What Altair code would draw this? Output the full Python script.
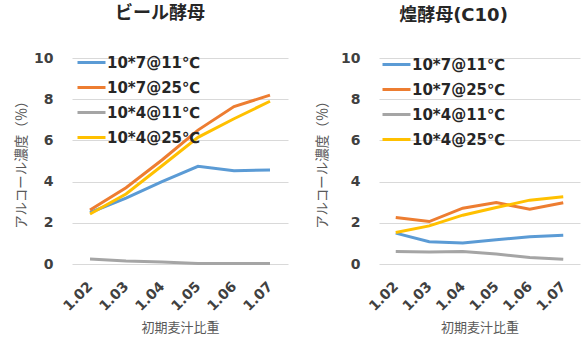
import altair as alt
import pandas as pd

# Initial wort specific gravity (category axis)
gravity = ["1.02", "1.03", "1.04", "1.05", "1.06", "1.07"]

# Pitch rate @ fermentation temperature
series = ["10*7@11℃", "10*7@25℃", "10*4@11℃", "10*4@25℃"]
colors = ["#5B9BD5", "#ED7D31", "#A5A5A5", "#FFC000"]

# Alcohol concentration (%) — beer yeast
beer_7_11 = [2.50, 3.20, 4.00, 4.74, 4.53, 4.56]
beer_7_25 = [2.62, 3.70, 5.05, 6.50, 7.64, 8.20]
beer_4_11 = [0.24, 0.15, 0.10, 0.03, 0.03, 0.02]
beer_4_25 = [2.43, 3.40, 4.77, 6.15, 7.05, 7.90]

# Alcohol concentration (%) — Kirameki yeast (C10)
c10_7_11 = [1.50, 1.08, 1.02, 1.18, 1.32, 1.40]
c10_7_25 = [2.26, 2.06, 2.71, 2.98, 2.66, 2.97]
c10_4_11 = [0.61, 0.58, 0.61, 0.48, 0.32, 0.23]
c10_4_25 = [1.53, 1.85, 2.37, 2.74, 3.10, 3.27]

JP = "Noto Sans CJK JP"
NUM = "DejaVu Sans, Noto Sans CJK JP"


def to_frame(cols):
    rows = []
    for name, vals in zip(series, cols):
        for g, v in zip(gravity, vals):
            rows.append({"sg": g, "series": name, "alc": v})
    return pd.DataFrame(rows)


def panel(df, title, width, height, lx, ly, ytitle_pad, tdx):
    return (
        alt.Chart(df)
        .mark_line(strokeWidth=3)
        .encode(
            x=alt.X(
                "sg:N",
                sort=gravity,
                title="初期麦汁比重",
                axis=alt.Axis(
                    labelAngle=-45,
                    labelAlign="right",
                    labelBaseline="middle",
                    labelFont=NUM,
                    labelFontSize=14,
                    labelFontWeight="bold",
                    labelColor="#404040",
                    labelPadding=20,
                    domain=False,
                    ticks=False,
                    grid=False,
                    titleFont=JP,
                    titleFontSize=13,
                    titleFontWeight="normal",
                    titleColor="#595959",
                    titlePadding=8,
                ),
            ),
            y=alt.Y(
                "alc:Q",
                title="アルコール濃度（％）",
                scale=alt.Scale(domain=[0, 10], nice=False),
                axis=alt.Axis(
                    values=[0, 2, 4, 6, 8, 10],
                    labelFont=NUM,
                    labelFontSize=14,
                    labelFontWeight="bold",
                    labelColor="#404040",
                    labelPadding=19,
                    minExtent=40,
                    maxExtent=40,
                    domain=False,
                    ticks=False,
                    gridColor="#D9D9D9",
                    gridWidth=1,
                    titleFont=JP,
                    titleFontSize=13.5,
                    titleFontWeight="normal",
                    titleColor="#595959",
                    titlePadding=ytitle_pad,
                ),
            ),
            color=alt.Color(
                "series:N",
                sort=series,
                scale=alt.Scale(domain=series, range=colors),
                legend=alt.Legend(
                    title=None,
                    orient="none",
                    legendX=lx,
                    legendY=ly,
                    symbolType="stroke",
                    symbolStrokeWidth=3,
                    symbolSize=784,
                    labelFont=NUM,
                    labelFontSize=15,
                    labelFontWeight="bold",
                    labelColor="#262626",
                    labelOffset=0,
                    rowPadding=1,
                ),
            ),
        )
        .properties(
            width=width,
            height=height,
            title=alt.TitleParams(
                title,
                font=NUM,
                fontSize=18,
                fontWeight="bold",
                color="#262626",
                anchor="middle",
                frame="bounds",
                offset=24,
                dx=tdx,
            ),
        )
    )


left = panel(to_frame([beer_7_11, beer_7_25, beer_4_11, beer_4_25]),
             "ビール酵母", 216, 206, 4, -11, 4, 9)
right = panel(to_frame([c10_7_11, c10_7_25, c10_4_11, c10_4_25]),
              "煌酵母(C10)", 201, 206, 2, -9, 10, 6)

chart = (
    alt.hconcat(left, right, spacing=27)
    .resolve_legend(color="independent")
    .resolve_scale(color="independent")
    .properties(padding={"left": 14, "top": 5, "right": 4, "bottom": 4})
    .configure(font=JP)
    .configure_view(stroke=None)
)

chart.save("out.html", embed_options={"renderer": "svg", "actions": False})
